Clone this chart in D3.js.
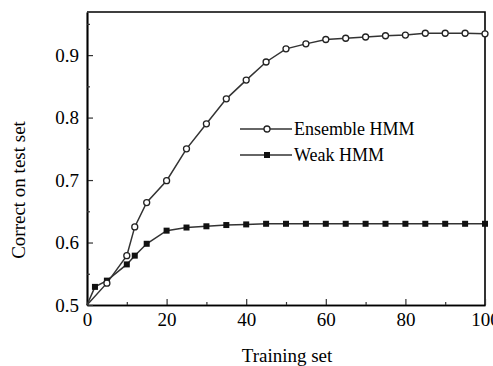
<!DOCTYPE html>
<html>
<head>
<meta charset="utf-8">
<script src="https://cdn.jsdelivr.net/npm/d3@7"></script>
<style>
  body { margin: 0; background: #fff; }
  svg { display: block; }
</style>
</head>
<body>
<svg width="493" height="366"></svg>
<script>
// data
var ensembleX = [0, 5, 10, 12, 15, 20, 25, 30, 35, 40, 45, 50, 55, 60, 65, 70, 75, 80, 85, 90, 95, 100];
var ensembleY = [0.5, 0.535, 0.579, 0.625, 0.664, 0.699, 0.75, 0.79, 0.83, 0.86, 0.889, 0.91, 0.918, 0.925, 0.927, 0.929, 0.931, 0.932, 0.935, 0.935, 0.935, 0.934];
var weakX = [0, 2, 5, 10, 12, 15, 20, 25, 30, 35, 40, 45, 50, 55, 60, 65, 70, 75, 80, 85, 90, 95, 100];
var weakY = [0.5, 0.529, 0.539, 0.565, 0.579, 0.598, 0.619, 0.624, 0.626, 0.628, 0.629, 0.63, 0.63, 0.63, 0.63, 0.63, 0.63, 0.63, 0.63, 0.63, 0.63, 0.63, 0.63];
var xTicks = [0, 20, 40, 60, 80, 100];
var yTicks = [0.5, 0.6, 0.7, 0.8, 0.9];
var seriesNames = ["Ensemble HMM", "Weak HMM"];

var serif = "'Liberation Serif', 'Times New Roman', 'DejaVu Serif', serif";

var margin = { top: 12, right: 8, bottom: 61, left: 87 },
    width = 485 - margin.left,
    height = 305 - margin.top;

var svg = d3.select("svg");
var g = svg.append("g")
  .attr("transform", "translate(" + margin.left + "," + margin.top + ")");

var x = d3.scaleLinear().domain([0, 100]).range([0, width]);
var y = d3.scaleLinear().domain([0.5, 0.969]).range([height, 0]);

// frame (top and right)
g.append("path")
  .attr("d", "M0,0H" + width + "V" + height)
  .attr("fill", "none")
  .attr("stroke", "#000")
  .attr("stroke-width", 1.6);

// x axis, ticks pointing inward
g.append("g")
  .attr("transform", "translate(0," + height + ")")
  .call(d3.axisBottom(x).tickValues(xTicks).tickSize(-6).tickSizeOuter(0).tickPadding(8).tickFormat(d3.format("d")));
g.append("g")
  .attr("transform", "translate(0," + height + ")")
  .call(d3.axisBottom(x).tickValues(d3.range(10, 100, 20)).tickSize(-3).tickSizeOuter(0).tickFormat(""));

var yAxis = g.append("g")
  .call(d3.axisLeft(y).tickValues(yTicks).tickSize(-6).tickSizeOuter(0).tickPadding(8).tickFormat(d3.format(".1f")));
g.append("g")
  .call(d3.axisLeft(y).tickValues([0.55, 0.65, 0.75, 0.85, 0.95]).tickSize(-3).tickSizeOuter(0).tickFormat(""));

g.selectAll(".domain").attr("stroke", "#000").attr("stroke-width", 1.6);
yAxis.select(".domain").attr("stroke", "#666").attr("stroke-width", 2.2);
g.selectAll(".tick line").attr("stroke", "#333").attr("stroke-width", 1.2);
g.selectAll(".tick text")
  .style("font-family", serif)
  .style("font-size", "19px")
  .attr("fill", "#000");

// axis titles
svg.append("text")
  .attr("x", 287).attr("y", 362)
  .attr("text-anchor", "middle")
  .style("font-family", serif).style("font-size", "19px")
  .text("Training set");
svg.append("text")
  .attr("transform", "translate(25,190) rotate(-90)")
  .attr("text-anchor", "middle")
  .style("font-family", serif).style("font-size", "19px")
  .text("Correct on test set");

var line = d3.line()
  .x(function (d) { return x(d[0]); })
  .y(function (d) { return y(d[1]); });

var ensemble = ensembleX.map(function (v, i) { return [v, ensembleY[i]]; });
var weak = weakX.map(function (v, i) { return [v, weakY[i]]; });

g.append("path").datum(weak)
  .attr("d", line).attr("fill", "none").attr("stroke", "#333").attr("stroke-width", 1.5);
g.append("path").datum(ensemble)
  .attr("d", line).attr("fill", "none").attr("stroke", "#333").attr("stroke-width", 1.5);

g.selectAll(".sq").data(weak.slice(1)).enter().append("rect")
  .attr("x", function (d) { return x(d[0]) - 3; })
  .attr("y", function (d) { return y(d[1]) - 3; })
  .attr("width", 6).attr("height", 6)
  .attr("fill", "#111");
g.selectAll(".dot").data(ensemble.slice(1)).enter().append("circle")
  .attr("cx", function (d) { return x(d[0]); })
  .attr("cy", function (d) { return y(d[1]); })
  .attr("r", 3)
  .attr("fill", "#fff").attr("stroke", "#222").attr("stroke-width", 1.3);

// legend
var leg = svg.append("g").attr("transform", "translate(240,129)");
seriesNames.forEach(function (name, i) {
  var row = leg.append("g").attr("transform", "translate(0," + (i * 26) + ")");
  row.append("line").attr("x1", 0).attr("x2", 52).attr("stroke", "#333").attr("stroke-width", 1.5);
  if (i === 0) {
    row.append("circle").attr("cx", 27).attr("r", 3).attr("fill", "#fff").attr("stroke", "#222").attr("stroke-width", 1.3);
  } else {
    row.append("rect").attr("x", 24).attr("y", -3).attr("width", 6).attr("height", 6).attr("fill", "#111");
  }
  row.append("text").attr("x", 54).attr("y", 6)
    .style("font-family", serif).style("font-size", "18px")
    .text(name);
});
</script>
</body>
</html>
